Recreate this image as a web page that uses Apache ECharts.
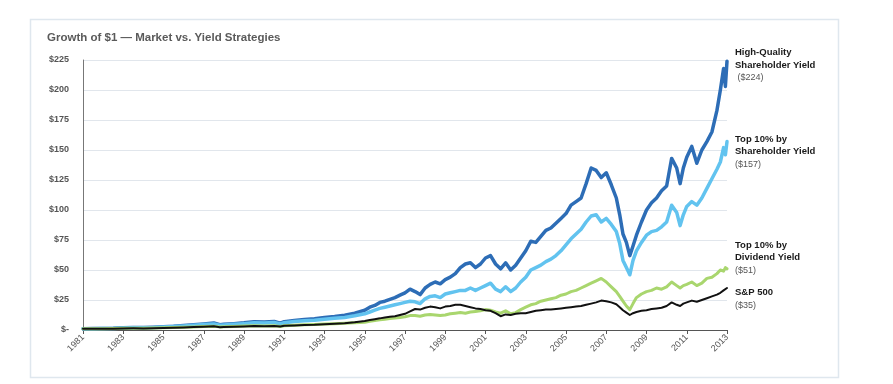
<!DOCTYPE html>
<html>
<head>
<meta charset="utf-8">
<script src="https://cdn.jsdelivr.net/npm/echarts@6/dist/echarts.min.js"></script>
<style>
html,body{margin:0;padding:0;background:#fff;}
#chart{width:893px;height:384px;}
</style>
</head>
<body>
<div id="chart"></div>
<script>
// ---- Data ----
const periods = [
  1981, 1981.5, 1982, 1982.5, 1983, 1983.5, 1984, 1984.5, 1985, 1985.5,
  1986, 1986.5, 1987, 1987.5, 1987.8, 1988, 1988.5, 1989, 1989.5,
  1990, 1990.5, 1990.8, 1991, 1991.5, 1992, 1992.5, 1993, 1993.5, 1994, 1994.5,
  1995, 1995.25, 1995.5, 1995.75,
  1996, 1996.25, 1996.5, 1996.75,
  1997, 1997.25, 1997.5, 1997.75,
  1998, 1998.25, 1998.5, 1998.75,
  1999, 1999.25, 1999.5, 1999.75,
  2000, 2000.25, 2000.5, 2000.75,
  2001, 2001.25, 2001.5, 2001.75,
  2002, 2002.25, 2002.5, 2002.75,
  2003, 2003.25, 2003.5, 2003.75,
  2004, 2004.25, 2004.5, 2004.75,
  2005, 2005.25, 2005.5, 2005.75,
  2006, 2006.25, 2006.5, 2006.75,
  2007, 2007.25, 2007.5, 2007.67, 2007.83,
  2008, 2008.17, 2008.33, 2008.5, 2008.75,
  2009, 2009.25, 2009.5, 2009.75,
  2010, 2010.25, 2010.5, 2010.67, 2010.83,
  2011, 2011.25, 2011.5, 2011.75,
  2012, 2012.25, 2012.5, 2012.67, 2012.83, 2012.92, 2013
];

const highQualitySY = [
  1.0, 1.2, 1.3, 1.4, 1.8, 2.0, 2.0, 2.3, 2.7, 3.1,
  3.7, 4.3, 5.0, 5.8, 4.4, 4.7, 5.3, 6.0, 6.9,
  6.7, 7.1, 5.7, 6.9, 8.0, 8.8, 9.4, 10.5, 11.3, 12.4, 14.0,
  16.5, 19, 20.5, 23,
  24, 25.5, 27, 29,
  31, 34, 32, 29.5,
  35, 38, 40, 38.5,
  42, 44, 47, 52,
  55, 56, 52, 55,
  60, 62, 55, 51,
  56, 50, 54, 60,
  66, 74, 73, 78,
  83, 85, 89, 93,
  97, 104, 107, 110,
  122, 135, 133, 127,
  131, 121, 110, 96, 80,
  73, 62, 70, 79, 90,
  100, 106, 110, 116,
  120, 143, 135, 122, 135,
  144, 153, 139, 150,
  157, 165, 183, 200, 218, 203, 224
];

const top10SY = [
  1.0, 1.1, 1.2, 1.3, 1.7, 1.9, 1.9, 2.1, 2.5, 2.9,
  3.4, 3.9, 4.5, 5.1, 3.9, 4.2, 4.7, 5.3, 6.0,
  5.9, 6.2, 5.0, 6.0, 7.0, 7.7, 8.2, 9.0, 9.7, 10.5, 11.8,
  13.5, 15, 16.5, 18,
  19, 20, 21, 22,
  23, 24, 23.5, 22,
  26, 28, 28.5, 27,
  30, 31, 32, 33,
  33, 35, 33, 35,
  37, 39, 34, 32,
  36, 32, 35, 40,
  44, 50, 52, 54,
  57, 59, 62, 66,
  71, 76, 80, 84,
  90, 95, 96, 90,
  93, 88, 82, 72, 58,
  52, 46, 58, 66, 73,
  79, 82, 83, 86,
  90, 104, 98, 87, 96,
  103, 107, 104, 110,
  118, 126, 134, 140, 152, 146, 157
];

const top10DY = [
  1.0, 1.05, 1.1, 1.2, 1.4, 1.5, 1.5, 1.6, 1.8, 2.0,
  2.3, 2.6, 2.9, 3.2, 2.6, 2.8, 3.0, 3.3, 3.6,
  3.4, 3.5, 3.0, 3.5, 4.0, 4.3, 4.6, 5.0, 5.3, 5.6, 6.0,
  6.5, 7.2, 7.8, 8.5,
  9.0, 9.5, 10, 10.5,
  11, 12, 12, 11.5,
  12.5, 13, 12.5, 12,
  12.5, 13.5, 14, 14.5,
  14, 15, 15.5, 16,
  17, 16.5, 15, 14,
  16, 13.5, 14.5, 17,
  19, 21, 22, 24,
  25, 26, 27, 29,
  30, 32, 33, 35,
  37, 39, 41, 43,
  40, 36, 32, 28, 24,
  20, 17, 22, 27, 30,
  32, 33, 35, 34,
  36, 40, 37, 35, 37,
  38, 40, 37, 39,
  43, 44, 47, 50, 49, 52, 51
];

const sp500 = [
  1.0, 0.95, 1.0, 1.1, 1.3, 1.4, 1.35, 1.45, 1.6, 1.8,
  2.1, 2.4, 2.8, 3.1, 2.3, 2.5, 2.7, 3.0, 3.4,
  3.2, 3.4, 2.9, 3.5, 3.8, 4.1, 4.3, 4.8, 5.2, 5.6, 6.4,
  7.5, 8.3, 9.0, 9.7,
  10.5, 11, 11.5, 12.5,
  13.5, 15.5, 17.5, 17,
  18.5, 19.5, 19, 18,
  19.5, 20, 21, 21,
  20, 19, 18, 17.5,
  16.5, 16, 14, 11.5,
  13, 12.5, 13.5, 14,
  14, 15, 16, 16.5,
  17, 17, 17.5, 18,
  18.5, 19, 19.5, 20,
  21, 22, 23, 24.5,
  24, 23, 21.5, 19, 16.5,
  14.5, 12.5, 14, 15, 16,
  16.5, 17.5, 18, 18.5,
  20, 23, 21, 20, 22,
  23, 24.5, 23.5, 25,
  26.5, 28, 29.5, 31, 33, 32.5, 35
];

const yTicks = [0, 25, 50, 75, 100, 125, 150, 175, 200, 225];
const startYear = 1981;
const endYear = 2013;

const seriesNames = ['High-Quality Shareholder Yield', 'Top 10% by Shareholder Yield', 'Top 10% by Dividend Yield', 'S&P 500'];
const labelLines = [
  ['High-Quality', 'Shareholder Yield', ' ($224)'],
  ['Top 10% by', 'Shareholder Yield', '($157)'],
  ['Top 10% by', 'Dividend Yield', '($51)'],
  ['S&P 500', '($35)']
];

// ---- Build ----
function pairs(vals){ return periods.map((p,i)=>[p - startYear, vals[i]]); }

const colors = ['#2d6db6', '#62c3ef', '#a9d66e', '#111111'];
const widths = [3.5, 3.5, 3, 2];
const offsets = [[3, 4], [3, 10], [3, -11], [3, 11]];
const allVals = [highQualitySY, top10SY, top10DY, sp500];

const series = allVals.map((vals, k) => ({
  name: seriesNames[k],
  type: 'line',
  data: pairs(vals),
  showSymbol: false,
  symbol: 'none',
  smooth: false,
  lineStyle: { color: colors[k], width: widths[k], join: 'round', cap: 'round' },
  itemStyle: { color: colors[k] },
  animation: false,
  endLabel: {
    show: true,
    offset: offsets[k],
    distance: 5,
    formatter: () => {
      const lines = labelLines[k];
      return lines.map((l, i) => i === lines.length - 1 ? '{v|' + l + '}' : '{b|' + l + '}').join('\n');
    },
    rich: {
      b: { fontFamily: 'Liberation Sans, Arial, sans-serif', fontWeight: 'bold', fontSize: 9.5, color: '#1a1a1a', lineHeight: 12.5 },
      v: { fontFamily: 'Liberation Sans, Arial, sans-serif', fontSize: 9, color: '#555', lineHeight: 12.5 }
    }
  }
}));

const chart = echarts.init(document.getElementById('chart'), null, { renderer: 'canvas' });
chart.setOption({
  animation: false,
  backgroundColor: '#ffffff',
  title: {
    text: 'Growth of $1 — Market vs. Yield Strategies',
    left: 42, top: 27,
    textStyle: { fontFamily: 'Liberation Sans, Arial, sans-serif', fontSize: 11.5, fontWeight: 'bold', color: '#5a5a5a' }
  },
  graphic: [{
    type: 'rect', left: 28, top: 17, silent: true, z: -10,
    shape: { width: 808, height: 358 },
    style: { fill: 'none', stroke: '#dfe7ee', lineWidth: 1.5 }
  }],
  grid: { left: 83, right: 166, top: 60, bottom: 54, containLabel: false },
  xAxis: {
    type: 'value',
    min: 0, max: endYear - startYear, interval: 2,
    axisLine: { show: true, lineStyle: { color: '#555', width: 1 } },
    axisTick: { show: true, length: 4, inside: false, lineStyle: { color: '#555' } },
    splitLine: { show: false },
    axisLabel: {
      rotate: 45, margin: 6,
      fontFamily: 'Liberation Sans, Arial, sans-serif', fontSize: 9, color: '#555',
      formatter: v => String(startYear + v)
    }
  },
  yAxis: {
    type: 'value',
    min: yTicks[0], max: yTicks[yTicks.length - 1], interval: 25,
    axisLine: { show: true, lineStyle: { color: '#777', width: 1 } },
    axisTick: { show: false },
    splitLine: { show: true, lineStyle: { color: '#e1e6ec', width: 1 } },
    axisLabel: {
      margin: 14,
      fontFamily: 'Liberation Sans, Arial, sans-serif', fontSize: 9, fontWeight: 'bold', color: '#555',
      formatter: v => v === 0 ? '$-' : '$' + v
    }
  },
  series: series
});
</script>
</body>
</html>
